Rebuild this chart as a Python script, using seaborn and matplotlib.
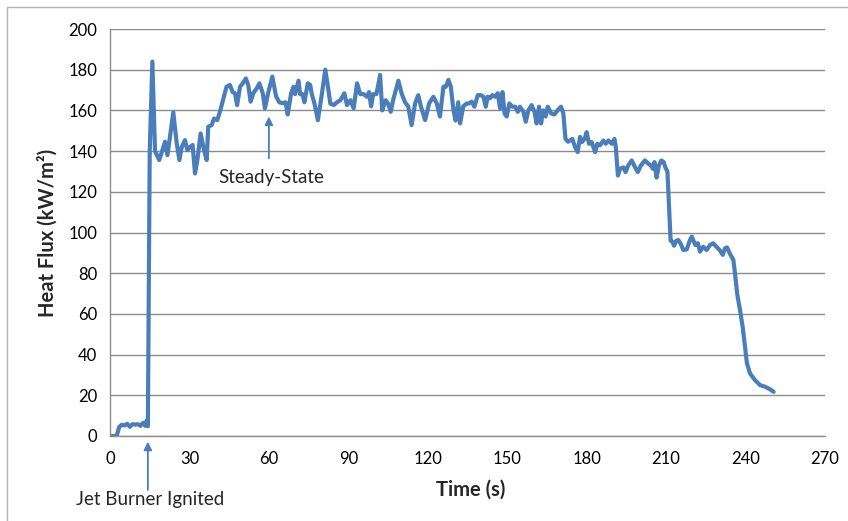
import matplotlib
matplotlib.use("Agg")
import matplotlib.pyplot as plt
import seaborn as sns
import pandas as pd
from matplotlib.patches import Rectangle

# Heat flux record from the jet-fire exposure test
time_s = [
    0, 2.5, 3.5, 4.5, 5.5, 6.5, 7.5, 8.5, 9.5, 10.5, 11.5, 12.5, 13.3, 13.8, 14.3,
    15.0, 16.0, 17.0, 18.6, 20.8, 21.7, 23.9, 25.2, 26.2, 27.1, 28.3, 29.2, 30.2,
    31.2, 32.1, 33.0, 34.2, 35.5, 36.5, 37.1, 38.4, 39.3, 40.5, 41.5, 43.0, 44.0,
    45.3, 46.3, 47.2, 48.0, 49.1, 50.1, 51.3, 52.2, 53.1, 54.1, 55.4, 56.4, 57.7,
    58.5, 59.8, 61.3, 62.7, 63.9, 65.2, 66.3, 67.1, 68.4, 69.3, 69.9, 71.2, 71.8,
    72.7, 73.4, 74.7, 75.6, 76.2, 77.2, 78.5, 80.0, 81.3, 82.3, 83.2, 84.5, 85.7,
    87.0, 88.5, 89.5, 90.8, 92.0, 93.3, 94.5, 95.8, 97.0, 97.8, 98.6, 99.4, 100.6,
    101.3, 102.0, 102.8, 104.1, 105.0, 106.0, 106.9, 107.6, 108.9, 110.1, 111.4,
    112.6, 113.9, 115.2, 116.4, 117.4, 119.0, 120.5, 122.1, 123.4, 124.6, 125.9,
    126.8, 127.8, 128.7, 129.7, 130.5, 131.5, 132.2, 133.4, 134.7, 135.5, 136.6,
    137.6, 138.9, 140.1, 141.0, 141.9, 142.6, 143.5, 144.4, 145.4, 146.4, 147.3,
    148.2, 149.0, 149.8, 150.8, 152.0, 153.0, 154.0, 154.8, 156.1, 157.0, 158.0,
    159.2, 160.3, 161.1, 162.0, 162.8, 163.6, 164.5, 165.3, 166.6, 167.8, 169.0,
    170.3, 171.2, 172.0, 173.0, 174.6, 175.6, 176.6, 177.5, 178.2, 179.2, 180.0,
    180.9, 181.9, 183.2, 184.0, 185.0, 186.3, 187.2, 188.2, 189.5, 190.5, 191.0,
    191.8, 192.6, 193.9, 194.7, 195.7, 197.0, 198.3, 199.3, 200.5, 202.0, 203.3,
    204.2, 205.0, 205.6, 206.4, 207.3, 208.2, 209.1, 209.7, 210.5, 211.7, 212.4,
    213.0, 213.9, 214.6, 215.5, 216.5, 217.8, 219.0, 219.7, 221.0, 222.0, 222.8,
    224.0, 225.3, 226.6, 227.8, 229.0, 230.2, 231.4, 232.2, 233.0, 234.0, 235.4,
    236.0, 236.9, 237.9, 238.9, 239.8, 240.5, 241.7, 243.6, 245.5, 247.4, 249.3,
    250.6,
]
heat_flux = [
    0, 0, 4.5, 5.5, 5.2, 6.0, 4.5, 5.8, 5.6, 5.8, 5.0, 6.5, 5.0, 7.5, 4.8,
    140, 184, 140, 135.6, 144.6, 138, 159, 143.8, 135.6, 142, 145.4, 140.5, 142,
    143, 129, 135.6, 148.7, 140.5, 135.6, 152, 152.8, 156, 155.2, 159.3, 166.7, 171.6,
    172.5, 169, 168.4, 162.6, 171.6, 173.3, 175.7, 172.5, 164.3, 168.4, 170.8, 173.3, 168.4,
    161, 169, 176.6, 167, 164, 163.5, 164, 158, 168.4, 171.6, 168, 174.6, 168,
    168, 164, 173.3, 172.5, 168, 163.4, 155.2, 168, 180, 171.6, 163.4, 162.6, 164,
    165, 168.4, 162.6, 165, 161, 173.3, 168, 168, 166.7, 169, 162, 168, 168,
    172.5, 177.4, 160, 165, 163.4, 159.3, 165, 168.4, 174.6, 168.4, 164,
    162, 152.8, 163.4, 167.5, 162, 155.2, 163.4, 166.7, 163.4, 157, 171.6,
    171.6, 175, 171.6, 160, 155, 164, 153.6, 162, 163.4, 163.4, 164.3,
    161.8, 167.5, 167.5, 166.7, 161.8, 166.7, 166, 167.5, 166.7, 168.4, 161,
    169, 158.5, 157, 163.4, 161.8, 161.8, 159.3, 161.8, 159.3, 154.4, 160,
    162.6, 159.3, 153.6, 161.8, 153.6, 160, 157, 161.8, 158.5, 158, 160,
    161.8, 158.5, 146, 144.6, 146, 142, 139.5, 147, 144.4, 146, 149.3,
    143.6, 144.4, 139.5, 143.6, 142.8, 145.2, 143.6, 145.2, 143.6, 146, 142,
    128, 131.3, 132, 129.7, 133, 135.4, 132, 129.7, 133, 135.4, 133.8,
    133, 131.3, 134.6, 127, 133, 135.4, 134.6, 132, 130, 96, 95.5,
    93.5, 96, 96.3, 94.5, 91.4, 91.7, 96.3, 98, 93.9, 94.7, 90.6,
    93, 91.4, 93.9, 94.7, 93, 91.4, 89, 92.2, 92.7, 89.8, 86.5,
    80, 69.3, 62, 53.7, 43.9, 35.8, 30.7, 27.4, 25, 24.2, 22.9,
    21.7,
]

x_ticks = list(range(0, 271, 30))
y_ticks = list(range(0, 201, 20))

LINE_BLUE = "#4A7EBB"
GRID_GREY = "#8C8C8C"

sns.set_theme(style="white")
plt.rcParams["font.family"] = ["Lato", "DejaVu Sans"]

df = pd.DataFrame({"Time (s)": time_s, "Heat Flux": heat_flux})

fig = plt.figure(figsize=(8.48, 5.21), dpi=100)
ax = fig.add_axes([110 / 848, 1 - 436 / 521, 715 / 848, 407 / 521])

# chart-area border
fig.patches.append(Rectangle((7 / 848, -0.1), 2.0, 1 - 7 / 521 + 0.1,
                             transform=fig.transFigure, fill=False,
                             edgecolor="#B3B3B3", linewidth=1.0, zorder=0))

sns.lineplot(data=df, x="Time (s)", y="Heat Flux", ax=ax, color=LINE_BLUE,
             linewidth=3.0, estimator=None, sort=False)

ax.set_xlim(0, 270)
ax.set_ylim(0, 200)
ax.set_xticks(x_ticks)
ax.set_yticks(y_ticks)
ax.tick_params(axis="both", labelsize=12, colors="#000000", length=5,
               width=1, color=GRID_GREY, direction="out")
ax.tick_params(axis="x", pad=6)
ax.tick_params(axis="y", pad=4)
ax.yaxis.grid(True, color=GRID_GREY, linewidth=1.0)
ax.xaxis.grid(False)
ax.set_axisbelow(True)
for side in ("top", "right"):
    ax.spines[side].set_visible(False)
for side in ("left", "bottom"):
    ax.spines[side].set_color(GRID_GREY)
    ax.spines[side].set_linewidth(1.0)

ax.set_xlabel("Time (s)", fontsize=14.5, fontweight="bold")
ax.set_ylabel("Heat Flux (kW/m²)", fontsize=14.5, fontweight="bold")
ax.xaxis.set_label_coords(0.505, -0.108)
ax.yaxis.set_label_coords(-0.073, 0.5)

# annotations
ax.annotate("", xy=(60, 157), xytext=(60, 136.5),
            arrowprops=dict(arrowstyle="-|>", color=LINE_BLUE, lw=1.3,
                            mutation_scale=12, shrinkA=0, shrinkB=0))
ax.text(60.8, 127, "Steady-State", ha="center", va="center", fontsize=13.5)

ax.annotate("", xy=(14.3, -2.8), xytext=(14.3, -26.5),
            arrowprops=dict(arrowstyle="-|>", color=LINE_BLUE, lw=1.3,
                            mutation_scale=12, shrinkA=0, shrinkB=0),
            annotation_clip=False)
ax.text(15, -31, "Jet Burner Ignited", ha="center", va="center", fontsize=13.5,
        clip_on=False)

fig.savefig("out.png", dpi=100)
